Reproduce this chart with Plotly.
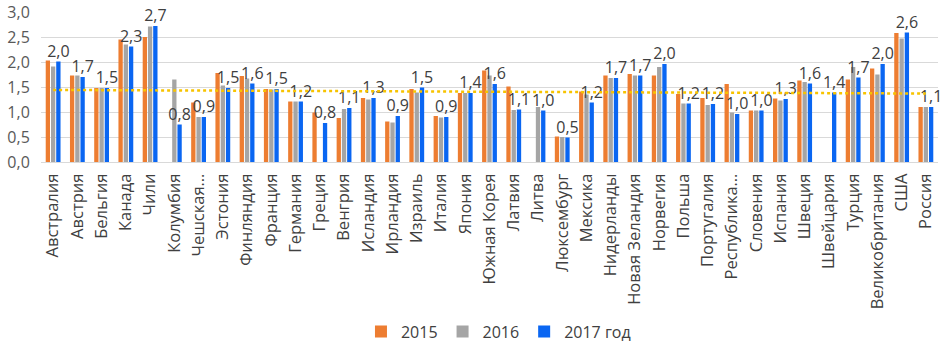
import numpy as np
import plotly.graph_objects as go

countries = ["Австралия", "Австрия", "Бельгия", "Канада", "Чили", "Колумбия", "Чешская…",
             "Эстония", "Финляндия", "Франция", "Германия", "Греция", "Венгрия", "Исландия",
             "Ирландия", "Израиль", "Италия", "Япония", "Южная Корея", "Латвия", "Литва",
             "Люксембург", "Мексика", "Нидерланды", "Новая Зеландия", "Норвегия", "Польша",
             "Португалия", "Республика…", "Словения", "Испания", "Швеция", "Швейцария",
             "Турция", "Великобритания", "США", "Россия"]

v2015 = [2.03, 1.73, 1.48, 2.45, 2.50, None, 1.19, 1.78, 1.72, 1.46, 1.21, 0.99, 0.88, 1.28,
         0.81, 1.46, 0.92, 1.38, 1.83, 1.51, None, 0.51, 1.41, 1.73, 1.76, 1.73, 1.36, 1.28,
         1.56, 1.03, 1.27, 1.63, None, 1.65, 1.87, 2.58, 1.10]
v2016 = [1.91, 1.73, 1.48, 2.35, 2.71, 1.65, 0.90, 1.53, 1.67, 1.45, 1.21, None, 1.06, 1.25,
         0.79, 1.39, 0.89, 1.38, 1.73, 1.04, 1.10, 0.50, 1.35, 1.68, 1.73, 1.90, 1.17, 1.14,
         0.99, 1.03, 1.23, 1.60, None, 1.90, 1.75, 2.47, 1.10]
v2017 = [2.01, 1.70, 1.48, 2.31, 2.72, 0.75, 0.90, 1.48, 1.57, 1.46, 1.21, 0.78, 1.08, 1.28,
         0.92, 1.49, 0.90, 1.38, 1.56, 1.05, 1.03, 0.49, 1.19, 1.68, 1.73, 1.96, 1.17, 1.16,
         0.96, 1.03, 1.26, 1.57, 1.39, 1.69, 1.96, 2.59, 1.10]

series_names = ["2015", "2016", "2017 год"]
y_ticks = [0, 0.5, 1.0, 1.5, 2.0, 2.5, 3.0]

colors = ["#ED7D31", "#A5A5A5", "#0A66F2"]
FONT = "Open Sans"

fig = go.Figure()
for name, vals, col in zip(series_names, [v2015, v2016, v2017], colors):
    kw = {}
    if name == "2017 год":
        kw = dict(text=[f"{v:.1f}".replace(".", ",") for v in vals],
                  textposition="outside", cliponaxis=False, constraintext="none",
                  textfont=dict(family=FONT, size=16, color="#404040"))
    fig.add_trace(go.Bar(x=countries, y=vals, name=name, marker_color=col,
                         marker_line_width=0, **kw))

# linear trendline of the 2017 series
idx = np.arange(len(countries))
slope, intercept = np.polyfit(idx, np.array(v2017, dtype=float), 1)
trend = intercept + slope * idx
fig.add_trace(go.Scatter(x=countries, y=trend, mode="lines", showlegend=False,
                         line=dict(color="#F7C300", width=2.5, dash="dot"),
                         hoverinfo="skip"))

fig.update_layout(
    width=942, height=345,
    margin=dict(l=41, r=4, t=12, b=183, autoexpand=False),
    plot_bgcolor="white", paper_bgcolor="white",
    barmode="group", bargap=0.35, bargroupgap=0.18,
    separators=", ",
    font=dict(family=FONT, size=16, color="#404040"),
    legend=dict(orientation="h", x=0.51, xanchor="center", y=-1.13, yanchor="middle",
                font=dict(family=FONT, size=16, color="#404040"), itemwidth=30,
                traceorder="normal"),
    showlegend=True,
)
fig.update_yaxes(range=[0, 3.0], tickvals=y_ticks, tickformat=".1f",
                 showgrid=True, gridcolor="#D9D9D9", gridwidth=1,
                 zeroline=False, showline=False, automargin=False,
                 ticks="outside", ticklen=7, tickcolor="rgba(0,0,0,0)",
                 tickfont=dict(family=FONT, size=16, color="#595959"))
fig.update_xaxes(tickangle=-90, showline=True, linecolor="#D9D9D9",
                 ticks="outside", ticklen=4, tickcolor="rgba(0,0,0,0)",
                 automargin=False,
                 tickfont=dict(family=FONT, size=16.5, color="#404040"))

fig.write_html("out.html", config={"displayModeBar": False},
               post_script="document.body.style.margin='0';document.body.style.padding='0';")
